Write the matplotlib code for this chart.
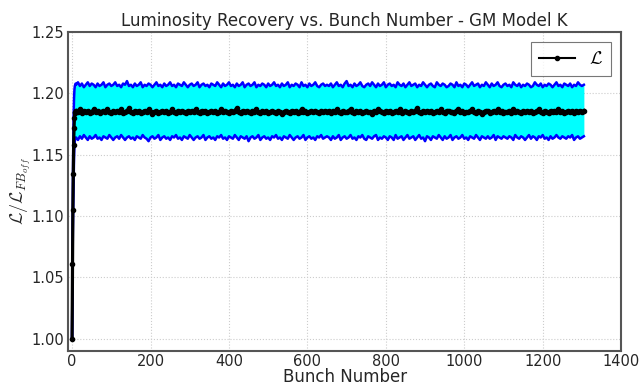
import matplotlib
matplotlib.use("Agg")
import matplotlib.pyplot as plt

plt.rcParams['mathtext.fontset'] = 'cm'
plt.rcParams['font.family'] = ['DejaVu Sans']

# numeros de bunch: rampa inicial (0-9) y luego cada 5 bunches
bunch = list(range(10)) + list(range(10, 1310, 5))

lum_ramp = [1.000, 1.061, 1.105, 1.134, 1.158, 1.172, 1.180, 1.184, 1.185, 1.186]
upper_ramp = [1.000, 1.070, 1.122, 1.158, 1.182, 1.196, 1.203, 1.206, 1.207, 1.208]
lower_ramp = [1.000, 1.052, 1.088, 1.110, 1.134, 1.148, 1.157, 1.161, 1.163, 1.164]

lum_steady = [
    1.186, 1.185, 1.187, 1.184, 1.186, 1.185, 1.186, 1.184, 1.185, 1.187,
    1.185, 1.186, 1.184, 1.185, 1.186, 1.185, 1.187, 1.185, 1.184, 1.186,
    1.185, 1.186, 1.185, 1.187, 1.184, 1.185, 1.186, 1.188, 1.185, 1.184,
    1.186, 1.185, 1.186, 1.184, 1.185, 1.186, 1.185, 1.187, 1.185, 1.183,
    1.185, 1.186, 1.184, 1.185, 1.186, 1.185, 1.186, 1.184, 1.185, 1.187,
    1.185, 1.184, 1.186, 1.185, 1.186, 1.185, 1.184, 1.186, 1.185, 1.186,
    1.185, 1.187, 1.185, 1.184, 1.186, 1.185, 1.186, 1.184, 1.185, 1.186,
    1.185, 1.186, 1.184, 1.185, 1.187, 1.185, 1.186, 1.185, 1.184, 1.186,
    1.185, 1.186, 1.188, 1.185, 1.184, 1.186, 1.185, 1.186, 1.185, 1.184,
    1.186, 1.185, 1.187, 1.185, 1.184, 1.186, 1.185, 1.186, 1.184, 1.185,
    1.186, 1.185, 1.184, 1.186, 1.185, 1.183, 1.185, 1.186, 1.185, 1.184,
    1.186, 1.185, 1.186, 1.184, 1.185, 1.187, 1.185, 1.186, 1.184, 1.185,
    1.186, 1.185, 1.186, 1.185, 1.184, 1.186, 1.185, 1.186, 1.185, 1.186,
    1.184, 1.186, 1.185, 1.187, 1.185, 1.184, 1.186, 1.185, 1.185, 1.186,
    1.187, 1.185, 1.184, 1.186, 1.185, 1.186, 1.184, 1.185, 1.186, 1.185,
    1.185, 1.183, 1.186, 1.185, 1.187, 1.186, 1.185, 1.184, 1.186, 1.185,
    1.186, 1.184, 1.185, 1.186, 1.185, 1.187, 1.184, 1.185, 1.186, 1.185,
    1.184, 1.186, 1.185, 1.186, 1.188, 1.185, 1.184, 1.186, 1.185, 1.186,
    1.185, 1.186, 1.184, 1.185, 1.186, 1.185, 1.187, 1.185, 1.184, 1.186,
    1.186, 1.185, 1.185, 1.184, 1.186, 1.187, 1.185, 1.186, 1.184, 1.185,
    1.185, 1.186, 1.187, 1.185, 1.184, 1.186, 1.185, 1.183, 1.185, 1.186,
    1.186, 1.184, 1.185, 1.186, 1.185, 1.187, 1.185, 1.186, 1.184, 1.185,
    1.185, 1.186, 1.184, 1.187, 1.185, 1.186, 1.185, 1.184, 1.186, 1.185,
    1.186, 1.185, 1.186, 1.184, 1.185, 1.186, 1.187, 1.185, 1.184, 1.186,
    1.185, 1.184, 1.186, 1.185, 1.186, 1.185, 1.187, 1.185, 1.186, 1.184,
    1.185, 1.186, 1.185, 1.186, 1.184, 1.186, 1.185, 1.186, 1.185, 1.186,
]

upper_steady = [
    1.207, 1.209, 1.206, 1.208, 1.205, 1.207, 1.209, 1.206, 1.208, 1.207,
    1.205, 1.208, 1.206, 1.207, 1.209, 1.205, 1.207, 1.208, 1.206, 1.207,
    1.209, 1.206, 1.207, 1.205, 1.208, 1.207, 1.210, 1.206, 1.207, 1.205,
    1.208, 1.206, 1.207, 1.209, 1.205, 1.207, 1.206, 1.208, 1.207, 1.205,
    1.207, 1.209, 1.206, 1.207, 1.205, 1.208, 1.206, 1.207, 1.209, 1.206,
    1.207, 1.205, 1.208, 1.207, 1.206, 1.209, 1.207, 1.205, 1.207, 1.208,
    1.206, 1.207, 1.209, 1.205, 1.207, 1.208, 1.206, 1.207, 1.205, 1.208,
    1.207, 1.206, 1.209, 1.207, 1.205, 1.208, 1.206, 1.207, 1.209, 1.206,
    1.207, 1.205, 1.208, 1.206, 1.207, 1.209, 1.205, 1.207, 1.208, 1.206,
    1.207, 1.209, 1.205, 1.207, 1.206, 1.208, 1.207, 1.205, 1.208, 1.206,
    1.207, 1.209, 1.206, 1.207, 1.205, 1.208, 1.206, 1.207, 1.209, 1.205,
    1.207, 1.206, 1.208, 1.207, 1.205, 1.209, 1.206, 1.207, 1.205, 1.208,
    1.206, 1.207, 1.209, 1.206, 1.205, 1.207, 1.208, 1.206, 1.207, 1.206,
    1.208, 1.205, 1.207, 1.209, 1.206, 1.207, 1.205, 1.208, 1.210, 1.206,
    1.207, 1.205, 1.208, 1.206, 1.207, 1.209, 1.206, 1.205, 1.207, 1.208,
    1.206, 1.209, 1.207, 1.205, 1.208, 1.206, 1.207, 1.209, 1.205, 1.207,
    1.208, 1.206, 1.207, 1.205, 1.209, 1.207, 1.206, 1.208, 1.205, 1.207,
    1.209, 1.206, 1.207, 1.208, 1.205, 1.207, 1.206, 1.209, 1.207, 1.205,
    1.207, 1.208, 1.206, 1.205, 1.209, 1.207, 1.206, 1.208, 1.207, 1.205,
    1.206, 1.208, 1.207, 1.205, 1.209, 1.206, 1.207, 1.205, 1.208, 1.207,
    1.205, 1.207, 1.209, 1.206, 1.207, 1.208, 1.205, 1.207, 1.206, 1.209,
    1.207, 1.205, 1.208, 1.206, 1.207, 1.209, 1.206, 1.205, 1.207, 1.208,
    1.206, 1.207, 1.205, 1.209, 1.207, 1.206, 1.208, 1.205, 1.207, 1.206,
    1.208, 1.207, 1.205, 1.206, 1.209, 1.207, 1.206, 1.208, 1.205, 1.207,
    1.206, 1.208, 1.207, 1.205, 1.207, 1.209, 1.206, 1.207, 1.205, 1.208,
    1.207, 1.206, 1.208, 1.205, 1.207, 1.206, 1.209, 1.207, 1.206, 1.207,
]

lower_steady = [
    1.164, 1.162, 1.165, 1.163, 1.166, 1.164, 1.162, 1.165, 1.163, 1.164,
    1.166, 1.163, 1.164, 1.162, 1.165, 1.164, 1.163, 1.166, 1.164, 1.162,
    1.164, 1.165, 1.163, 1.166, 1.164, 1.162, 1.164, 1.165, 1.163, 1.164,
    1.162, 1.165, 1.164, 1.163, 1.166, 1.164, 1.163, 1.161, 1.164, 1.165,
    1.163, 1.164, 1.166, 1.162, 1.164, 1.165, 1.163, 1.164, 1.162, 1.165,
    1.164, 1.166, 1.163, 1.164, 1.162, 1.165, 1.164, 1.163, 1.166, 1.164,
    1.162, 1.164, 1.165, 1.163, 1.164, 1.166, 1.162, 1.164, 1.165, 1.163,
    1.164, 1.162, 1.165, 1.164, 1.166, 1.163, 1.164, 1.162, 1.165, 1.164,
    1.163, 1.166, 1.164, 1.162, 1.165, 1.164, 1.163, 1.165, 1.161, 1.164,
    1.165, 1.163, 1.164, 1.166, 1.162, 1.164, 1.165, 1.163, 1.164, 1.162,
    1.165, 1.164, 1.166, 1.163, 1.164, 1.162, 1.165, 1.164, 1.163, 1.166,
    1.164, 1.162, 1.164, 1.165, 1.163, 1.164, 1.166, 1.162, 1.164, 1.165,
    1.163, 1.164, 1.162, 1.165, 1.164, 1.166, 1.163, 1.164, 1.165, 1.164,
    1.162, 1.165, 1.163, 1.164, 1.166, 1.162, 1.164, 1.165, 1.163, 1.164,
    1.166, 1.163, 1.164, 1.162, 1.165, 1.164, 1.166, 1.163, 1.162, 1.165,
    1.164, 1.163, 1.165, 1.166, 1.162, 1.164, 1.163, 1.165, 1.164, 1.162,
    1.165, 1.164, 1.162, 1.166, 1.163, 1.164, 1.165, 1.162, 1.164, 1.166,
    1.163, 1.164, 1.165, 1.162, 1.164, 1.166, 1.163, 1.164, 1.161, 1.165,
    1.164, 1.162, 1.165, 1.164, 1.163, 1.166, 1.164, 1.162, 1.165, 1.163,
    1.164, 1.166, 1.162, 1.164, 1.165, 1.163, 1.164, 1.166, 1.163, 1.164,
    1.162, 1.165, 1.164, 1.163, 1.166, 1.164, 1.162, 1.165, 1.164, 1.163,
    1.165, 1.163, 1.164, 1.166, 1.162, 1.165, 1.164, 1.163, 1.165, 1.164,
    1.163, 1.165, 1.164, 1.162, 1.166, 1.164, 1.163, 1.165, 1.164, 1.162,
    1.164, 1.166, 1.163, 1.165, 1.164, 1.162, 1.165, 1.164, 1.166, 1.163,
    1.164, 1.162, 1.165, 1.163, 1.164, 1.166, 1.164, 1.163, 1.165, 1.164,
    1.163, 1.165, 1.164, 1.166, 1.162, 1.164, 1.165, 1.163, 1.164, 1.165,
]

lum = lum_ramp + lum_steady
upper = upper_ramp + upper_steady
lower = lower_ramp + lower_steady

text_color = '#262626'

fig = plt.figure(figsize=(6.43, 3.86), dpi=100)
ax = fig.add_axes([0.106, 0.091, 0.86, 0.826])

ax.fill_between(bunch, lower, upper, color='cyan', linewidth=0)
ax.plot(bunch, upper, color='blue', linewidth=1.8)
ax.plot(bunch, lower, color='blue', linewidth=1.8)
ax.plot(bunch, lum, color='black', marker='o', markersize=3, linewidth=2.3,
        label=r'$\mathcal{L}$')

ax.set_xlim(-10, 1400)
ax.set_ylim(0.99, 1.25)
ax.set_xticks(range(0, 1401, 200))
ax.set_yticks([1.00, 1.05, 1.10, 1.15, 1.20, 1.25])
ax.set_yticklabels(['1.00', '1.05', '1.10', '1.15', '1.20', '1.25'])
ax.tick_params(length=0, labelsize=10.5, labelcolor=text_color, pad=3)
ax.tick_params(axis='x', pad=2)
ax.grid(True, linestyle=':', color='#cccccc', linewidth=0.8)
ax.set_axisbelow(True)
for s in ax.spines.values():
    s.set_color('#555555')
    s.set_linewidth(1.5)

ax.set_title('Luminosity Recovery vs. Bunch Number - GM Model K', fontsize=12,
             color=text_color, pad=4)
ax.set_xlabel('Bunch Number', fontsize=12, color=text_color, labelpad=-0.5)
ax.set_ylabel(r'$\mathcal{L}/\mathcal{L}_{FB_{off}}$', fontsize=13, color=text_color)
ax.yaxis.set_label_coords(-0.064, 0.5)

leg = ax.legend(loc='upper right', numpoints=1, fontsize=13, fancybox=False,
                handlelength=2.0, borderpad=0.45, borderaxespad=0.55)
leg.get_frame().set_edgecolor('#555555')
leg.get_frame().set_linewidth(0.8)
for h in leg.legend_handles:
    h.set_markersize(3)
    h.set_linewidth(1.5)

fig.savefig('out.png', dpi=100)
